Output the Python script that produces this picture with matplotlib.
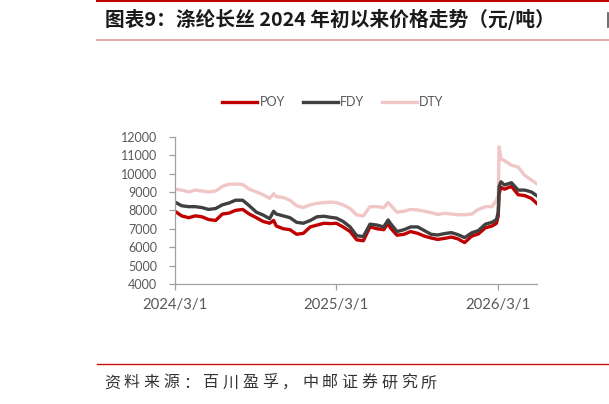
"""Polyester filament (POY / FDY / DTY) price trend since early 2024."""

import matplotlib
matplotlib.use("Agg")
import matplotlib.pyplot as plt
import matplotlib.dates as mdates
import pandas as pd

# values (yuan / tonne)
dates = [
    "2024-03-01", "2024-03-16", "2024-04-01", "2024-04-16", "2024-05-01", "2024-05-16",
    "2024-06-01", "2024-06-16", "2024-07-01", "2024-07-16", "2024-08-01", "2024-08-16",
    "2024-09-01", "2024-09-16", "2024-10-01", "2024-10-10", "2024-10-16", "2024-11-01",
    "2024-11-16", "2024-12-01", "2024-12-16", "2025-01-01", "2025-01-16", "2025-02-01",
    "2025-02-16", "2025-03-01", "2025-03-16", "2025-04-01", "2025-04-16", "2025-05-01",
    "2025-05-16", "2025-06-01", "2025-06-16", "2025-06-26", "2025-07-01", "2025-07-16",
    "2025-08-01", "2025-08-16", "2025-09-01", "2025-09-16", "2025-10-01", "2025-10-16",
    "2025-11-01", "2025-11-16", "2025-12-01", "2025-12-16", "2026-01-01", "2026-01-16",
    "2026-02-01", "2026-02-16", "2026-02-26", "2026-03-02", "2026-03-04", "2026-03-08",
    "2026-03-16", "2026-04-01", "2026-04-16", "2026-05-01", "2026-05-16", "2026-05-28",
]
poy = [
    7950, 7700, 7600, 7700, 7650, 7500, 7450, 7800, 7850, 8000, 8050, 7800,
    7600, 7400, 7300, 7450, 7150, 7000, 6950, 6700, 6750, 7100, 7200, 7300,
    7280, 7300, 7100, 6850, 6400, 6350, 7100, 7000, 6950, 7300, 7050, 6650,
    6700, 6850, 6750, 6600, 6500, 6420, 6480, 6550, 6450, 6250, 6600, 6720,
    7050, 7150, 7300, 7700, 8900, 9250, 9150, 9300, 8850, 8800, 8650, 8380,
]
fdy = [
    8450, 8250, 8200, 8200, 8150, 8050, 8100, 8300, 8400, 8550, 8550, 8250,
    7900, 7750, 7550, 7950, 7800, 7700, 7600, 7350, 7300, 7450, 7650, 7680,
    7620, 7580, 7400, 7100, 6620, 6580, 7250, 7200, 7100, 7480, 7300, 6850,
    6950, 7100, 7100, 6900, 6700, 6660, 6740, 6790, 6680, 6520, 6780, 6900,
    7250, 7350, 7500, 7900, 9300, 9550, 9380, 9500, 9100, 9100, 9000, 8800,
]
dty = [
    9150, 9100, 9000, 9100, 9050, 9000, 9050, 9300, 9420, 9430, 9400, 9150,
    9000, 8850, 8650, 8900, 8750, 8700, 8550, 8250, 8150, 8300, 8380, 8420,
    8450, 8420, 8300, 8100, 7750, 7700, 8200, 8200, 8150, 8420, 8300, 7900,
    7950, 8050, 8020, 7950, 7880, 7780, 7840, 7800, 7760, 7760, 7800, 8050,
    8200, 8200, 8550, 8800, 11450, 10800, 10700, 10450, 10350, 9900, 9650, 9450,
]
series_names = ["POY", "FDY", "DTY"]
x_ticks = ["2024-03-01", "2025-03-01", "2026-03-01"]
y_ticks = [4000, 5000, 6000, 7000, 8000, 9000, 10000, 11000, 12000]

TITLE = "图表9：涤纶长丝 2024 年初以来价格走势（元/吨）"
SOURCE = "资料来源：百川盈孚，中邮证券研究所"

COLORS = ["#C00000", "#404040", "#F0C6C6"]
W, H = 609, 404


def plot():
    plt.rcParams["font.family"] = ["Lato", "DejaVu Sans"]
    fig = plt.figure(figsize=(W / 100, H / 100), dpi=100)

    # page decorations: red rules, title and source
    fig.add_artist(plt.Line2D([97 / W, 1], [1 - 0.8 / H] * 2, color="#C00000", lw=1.5))
    fig.add_artist(plt.Line2D([97 / W, 1], [1 - 40 / H] * 2, color="#E59A9A", lw=1.2))
    fig.add_artist(plt.Line2D([97 / W, 1], [1 - 364 / H] * 2, color="#CC1010", lw=1.0))
    # edge of the neighbouring column, cut off by the crop
    fig.add_artist(plt.Line2D([608 / W] * 2, [1 - 13 / H, 1 - 27 / H], color="#555555", lw=1.2))
    cjk = ["Noto Sans CJK SC", "DejaVu Sans"]
    fig.text(105 / W, 1 - 19 / H, TITLE, family=cjk, fontsize=14.2, weight="bold",
             color="#1A1A1A", va="center")
    for i, ch in enumerate(SOURCE):
        fig.text((104 + i * 19.8) / W, 1 - 383 / H, ch, family=cjk, fontsize=11.5,
                 color="#333333", va="center")

    ax = fig.add_axes([175 / W, 1 - 284 / H, (536.7 - 175) / W, (284 - 136.7) / H])
    x = pd.to_datetime(dates)
    for name, values, color in zip(series_names, [poy, fdy, dty], COLORS):
        ax.plot(x, values, color=color, lw=2.4, label=name, solid_joinstyle="round")
    # draw the light DTY line beneath the others
    ax.lines[2].set_zorder(1)

    ax.set_xlim(x[0], x[-1])
    ax.set_ylim(4000, 12000)
    ax.set_yticks(y_ticks)
    ax.set_xticks(pd.to_datetime(x_ticks))
    ax.xaxis.set_major_formatter(mdates.DateFormatter("%Y/%-m/%-d"))

    for side in ["top", "right"]:
        ax.spines[side].set_visible(False)
    for side in ["left", "bottom"]:
        ax.spines[side].set_color("#A0A0A0")
        ax.spines[side].set_linewidth(0.9)
    ax.tick_params(axis="both", colors="#A0A0A0", length=4, width=0.9)
    ax.tick_params(axis="y", labelsize=9, labelcolor="#595959", pad=9)
    ax.tick_params(axis="x", labelsize=10.7, labelcolor="#595959", pad=6)

    ax.legend(loc="center", bbox_to_anchor=(333 / W, 1 - 102.5 / H),
              bbox_transform=fig.transFigure, ncol=3, frameon=False, fontsize=9,
              handlelength=2.8, handletextpad=0.2, columnspacing=1.4,
              labelcolor="#595959")

    fig.savefig("out.png", dpi=100)
    plt.close(fig)


if __name__ == "__main__":
    plot()
